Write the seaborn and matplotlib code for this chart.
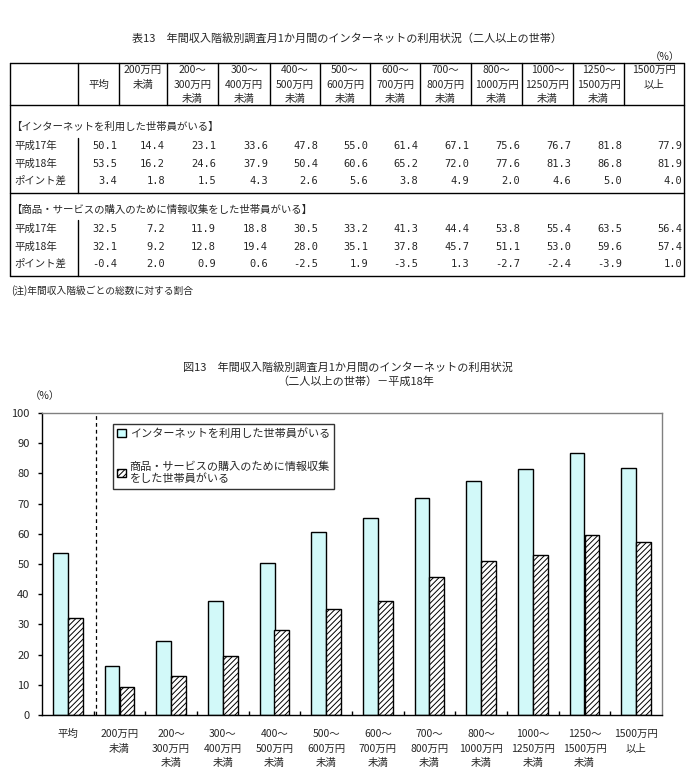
import numpy as np
import pandas as pd
import matplotlib
matplotlib.use("Agg")
import matplotlib.pyplot as plt
from matplotlib.patches import Patch
import seaborn as sns

# --- data ---------------------------------------------------------------
classes = ["平均", "200万円\n未満", "200～\n300万円\n未満", "300～\n400万円\n未満",
           "400～\n500万円\n未満", "500～\n600万円\n未満", "600～\n700万円\n未満",
           "700～\n800万円\n未満", "800～\n1000万円\n未満", "1000～\n1250万円\n未満",
           "1250～\n1500万円\n未満", "1500万円\n以上"]
row_names = ["平成17年", "平成18年", "ポイント差"]
sec1_title = "【インターネットを利用した世帯員がいる】"
sec2_title = "【商品・サービスの購入のために情報収集をした世帯員がいる】"

net_h17 = [50.1, 14.4, 23.1, 33.6, 47.8, 55.0, 61.4, 67.1, 75.6, 76.7, 81.8, 77.9]
net_h18 = [53.5, 16.2, 24.6, 37.9, 50.4, 60.6, 65.2, 72.0, 77.6, 81.3, 86.8, 81.9]
net_diff = [3.4, 1.8, 1.5, 4.3, 2.6, 5.6, 3.8, 4.9, 2.0, 4.6, 5.0, 4.0]

buy_h17 = [32.5, 7.2, 11.9, 18.8, 30.5, 33.2, 41.3, 44.4, 53.8, 55.4, 63.5, 56.4]
buy_h18 = [32.1, 9.2, 12.8, 19.4, 28.0, 35.1, 37.8, 45.7, 51.1, 53.0, 59.6, 57.4]
buy_diff = [-0.4, 2.0, 0.9, 0.6, -2.5, 1.9, -3.5, 1.3, -2.7, -2.4, -3.9, 1.0]

series_names = ["インターネットを利用した世帯員がいる",
                "商品・サービスの購入のために情報収集\nをした世帯員がいる"]

sns.set_theme(style="white")
plt.rcParams['font.family'] = ['Noto Sans CJK JP', 'DejaVu Sans']
plt.rcParams['hatch.linewidth'] = 0.7

fig = plt.figure(figsize=(6.95, 7.84), dpi=100)

# --- table (drawn in pixel coords on an overlay axes) -------------------
tb = fig.add_axes([0, 0, 1, 1])
tb.set_xlim(0, 695)
tb.set_ylim(784, 0)
tb.axis("off")
fs = 7.5
col_edges = [10, 78, 119, 167, 218, 270, 320, 370, 420, 471, 522, 573, 624, 684]

tb.text(347, 38, "表13　年間収入階級別調査月1か月間のインターネットの利用状況（二人以上の世帯）",
        ha="center", va="center", fontsize=8)
tb.text(680, 57, "（%）", ha="right", va="center", fontsize=fs)

top, head_bot, sep, bot = 63, 105, 193, 276
lw = 1.0
for y in [top, head_bot, sep, bot]:
    tb.plot([col_edges[0], col_edges[-1]], [y, y], color="black", lw=lw)
tb.plot([col_edges[0]] * 2, [top, bot], color="black", lw=lw)
tb.plot([col_edges[-1]] * 2, [top, bot], color="black", lw=lw)
for x in col_edges[1:-1]:
    tb.plot([x, x], [top, head_bot], color="black", lw=lw)
tb.plot([78, 78], [138, sep], color="black", lw=lw)
tb.plot([78, 78], [220, bot], color="black", lw=lw)

head_y = [70, 85, 99]
for i, lab in enumerate(classes):
    cx = (col_edges[i + 1] + col_edges[i + 2]) / 2
    lines = lab.split("\n")
    start = 1 if len(lines) == 1 else 0
    for j, ln in enumerate(lines):
        tb.text(cx, head_y[start + j], ln, ha="center", va="center", fontsize=fs)

def draw_section(title, y0, rows):
    tb.text(11, y0, title, ha="left", va="center", fontsize=fs)
    for k, (name, vals) in enumerate(zip(row_names, rows)):
        y = y0 + 19 + k * 17.5
        tb.text(14, y, name, ha="left", va="center", fontsize=fs)
        for i, v in enumerate(vals):
            tb.text(col_edges[i + 2] - 2, y, f"{v:.1f}", ha="right", va="center",
                    fontsize=fs, family="DejaVu Sans Mono")

draw_section(sec1_title, 127, [net_h17, net_h18, net_diff])
draw_section(sec2_title, 210, [buy_h17, buy_h18, buy_diff])
tb.text(11, 291, "(注)年間収入階級ごとの総数に対する割合", ha="left", va="center", fontsize=7)

# --- chart --------------------------------------------------------------
tb.text(348, 367, "図13　年間収入階級別調査月1か月間のインターネットの利用状況",
        ha="center", va="center", fontsize=8)
tb.text(356, 382, "（二人以上の世帯）－平成18年", ha="center", va="center", fontsize=8)
tb.text(45, 396, "（%）", ha="center", va="center", fontsize=7.5)

df = pd.DataFrame({
    "階級": classes * 2,
    "系列": [series_names[0]] * len(classes) + [series_names[1]] * len(classes),
    "値": net_h18 + buy_h18,
})

ax = fig.add_axes([42 / 695, 1 - 715 / 784, 620 / 695, 302 / 784])
sns.barplot(data=df, x="階級", y="値", hue="系列", palette=["#CCFFFF", "white"],
            edgecolor="black", linewidth=1, width=0.58, legend=False, ax=ax)
for bar in ax.containers[1]:
    bar.set_hatch("//////")

ax.set_xlim(-0.5, len(classes) - 0.5)
ax.set_ylim(0, 100)
ax.set_yticks(np.arange(0, 101, 10))
ax.set_xlabel("")
ax.set_ylabel("")
ax.axvline(0.55, color="black", lw=0.9, ls=(0, (3, 2.5)))

for s in ["left", "bottom"]:
    ax.spines[s].set_color("black")
    ax.spines[s].set_linewidth(1)
for s in ["top", "right"]:
    ax.spines[s].set_color("#808080")
    ax.spines[s].set_linewidth(1)

ax.tick_params(axis="y", direction="out", length=3, width=1, color="black",
               labelsize=8, pad=6, left=True)
ax.tick_params(axis="x", which="major", length=0, labelsize=7.5, pad=10)
ax.set_xticks(np.arange(0.5, len(classes) - 1, 1), minor=True)
ax.tick_params(axis="x", which="minor", direction="in", length=3, width=1,
               color="black", bottom=True)
for t in ax.get_xticklabels():
    t.set_linespacing(1.6)
    t.set_verticalalignment("top")

handles = [Patch(facecolor="#CCFFFF", edgecolor="black", label=series_names[0]),
           Patch(facecolor="white", edgecolor="black", hatch="//////", label=series_names[1])]
leg = ax.legend(handles=handles, loc="upper left", bbox_to_anchor=(0.1145, 0.965),
                fontsize=8, frameon=True, fancybox=False, edgecolor="black",
                handlelength=0.8, handleheight=0.8, handletextpad=0.3,
                labelspacing=2.0, borderpad=0.4, borderaxespad=0)
leg.get_frame().set_linewidth(1)

fig.savefig("out.png", dpi=100, facecolor="white")
